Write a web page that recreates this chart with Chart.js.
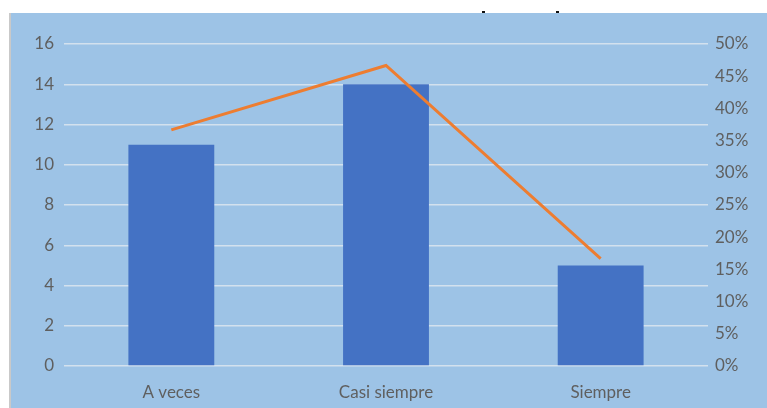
<!DOCTYPE html>
<html>
<head>
<meta charset="utf-8">
<script src="https://cdn.jsdelivr.net/npm/chart.js@4.4.0/dist/chart.umd.min.js"></script>
<style>
  html, body { margin: 0; padding: 0; background: #ffffff; }
  body { width: 767px; height: 408px; position: relative; overflow: hidden; }
  #panel {
    position: absolute; left: 9px; top: 13px; width: 758px; height: 395px;
    background: #9dc3e6; border-left: 2px solid #c9c9c9; box-sizing: border-box;
  }
  #wrap { position: absolute; left: 0; top: 0; width: 756px; height: 395px; }
  .mark { position: absolute; top: 11px; width: 3px; height: 2px; background: #111; }
</style>
</head>
<body>
<div id="panel"><div id="wrap"><canvas id="chart"></canvas></div></div>
<div class="mark" style="left:482px"></div>
<div class="mark" style="left:556px"></div>
<script>
const categories = ['A veces', 'Casi siempre', 'Siempre'];
const counts = [11, 14, 5];
const percents = [36.67, 46.67, 16.67];
const leftTicks = [0, 2, 4, 6, 8, 10, 12, 14, 16];
const rightTicks = [0, 5, 10, 15, 20, 25, 30, 35, 40, 45, 50];

document.addEventListener("DOMContentLoaded", () => {
  const ctx = document.getElementById("chart").getContext("2d");
  const tickFont = { family: 'Lato, "Liberation Sans", sans-serif', size: 17 };
  const gridColor = 'rgba(225,232,240,0.8)';

  new Chart(ctx, {
    data: {
      labels: categories,
      datasets: [
        {
          type: 'line',
          data: percents,
          yAxisID: 'y1',
          borderColor: '#ed7d31',
          borderWidth: 3,
          pointRadius: 0,
          tension: 0,
          order: 0
        },
        {
          type: 'bar',
          data: counts,
          yAxisID: 'y',
          backgroundColor: '#4472c4',
          categoryPercentage: 1,
          barPercentage: 0.4,
          order: 1
        }
      ]
    },
    options: {
      responsive: true,
      maintainAspectRatio: false,
      animation: false,
      layout: { padding: { top: 31, left: 0, right: 0, bottom: 0 } },
      plugins: { legend: { display: false }, tooltip: { enabled: false } },
      scales: {
        x: {
          grid: { display: false },
          border: { display: false },
          ticks: { color: '#5f5f5f', font: tickFont, padding: 8 },
          afterFit: (s) => { s.height = 42; }
        },
        y: {
          position: 'left',
          min: 0, max: 16,
          afterBuildTicks: (s) => { s.ticks = leftTicks.map(v => ({ value: v })); },
          grid: { color: gridColor, lineWidth: 1.5, drawTicks: false },
          border: { display: false },
          ticks: { color: '#5f5f5f', font: tickFont, padding: 10 },
          afterFit: (s) => { s.width = 53; }
        },
        y1: {
          position: 'right',
          min: 0, max: 50,
          afterBuildTicks: (s) => { s.ticks = rightTicks.map(v => ({ value: v })); },
          grid: { display: false, drawTicks: false },
          border: { display: false },
          ticks: { color: '#5f5f5f', font: tickFont, padding: 7, callback: (v) => v + '%' },
          afterFit: (s) => { s.width = 59; }
        }
      }
    }
  });
});
</script>
</body>
</html>
